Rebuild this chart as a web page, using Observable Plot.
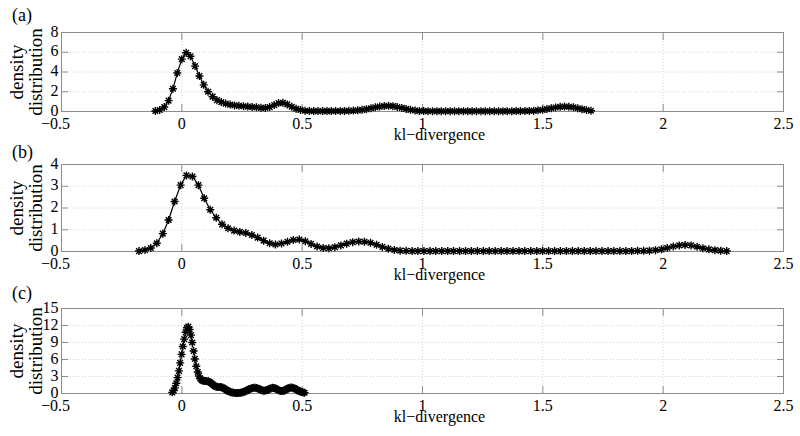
<!DOCTYPE html>
<html>
<head>
<meta charset="utf-8">
<script src="https://cdn.jsdelivr.net/npm/d3@7"></script>
<script src="https://cdn.jsdelivr.net/npm/@observablehq/plot@0.6"></script>
<style>
  html, body { margin: 0; padding: 0; background: #fff; }
  #wrap { position: relative; width: 800px; height: 436px; overflow: hidden; background: #fff; }
  .panel { position: absolute; left: 0; width: 800px; }
  .panel svg { overflow: visible; background: transparent !important;
               font-family: 'Liberation Serif', 'Times New Roman', serif !important;
               font-size: 16px !important; }
  .panel svg text { font-family: 'Liberation Serif', 'Times New Roman', serif !important; }
  .lbl { position: absolute; font-family: 'Liberation Serif', 'Times New Roman', serif;
         color: #000; white-space: nowrap; line-height: 1; }
  .ytitle { position: absolute; font-family: 'Liberation Serif', 'Times New Roman', serif;
            color: #000; font-size: 19px; line-height: 19px; text-align: center; width: 140px;
            transform: translate(-50%, -50%) rotate(-90deg); white-space: pre; }
</style>
</head>
<body>
<div id="wrap"></div>
<script>
// ---- data ----
const xTicks = [-0.5, 0, 0.5, 1, 1.5, 2, 2.5];
const yTicksA = [0, 2, 4, 6, 8];
const yTicksB = [0, 1, 2, 3, 4];
const yTicksC = [0, 3, 6, 9, 12, 15];
const panelLabels = ["(a)", "(b)", "(c)"];
const xTitle = "kl\u2212divergence";
const yTitle = "density\ndistribution";

const xA = [-0.110,-0.092,-0.073,-0.055,-0.037,-0.019,0.000,0.018,0.036,0.055,
0.073,0.091,0.109,0.128,0.146,0.164,0.182,0.201,0.219,0.237,
0.256,0.274,0.292,0.310,0.329,0.347,0.365,0.384,0.402,0.420,
0.438,0.457,0.475,0.493,0.512,0.530,0.548,0.566,0.585,0.603,
0.621,0.639,0.658,0.676,0.694,0.713,0.731,0.749,0.767,0.786,
0.804,0.822,0.841,0.859,0.877,0.895,0.914,0.932,0.950,0.969,
0.987,1.005,1.023,1.042,1.060,1.078,1.096,1.115,1.133,1.151,
1.170,1.188,1.206,1.224,1.243,1.261,1.279,1.298,1.316,1.334,
1.352,1.371,1.389,1.407,1.426,1.444,1.462,1.480,1.499,1.517,
1.535,1.553,1.572,1.590,1.608,1.627,1.645,1.663,1.681,1.700];
const yA = [0.05,0.15,0.45,1.10,2.30,3.90,5.30,5.95,5.60,4.60,
3.60,2.70,2.00,1.50,1.15,0.95,0.80,0.70,0.62,0.57,
0.53,0.50,0.46,0.42,0.37,0.36,0.45,0.65,0.85,0.88,
0.72,0.48,0.28,0.15,0.08,0.05,0.04,0.04,0.04,0.04,
0.04,0.05,0.05,0.06,0.07,0.09,0.12,0.17,0.24,0.33,
0.42,0.50,0.55,0.57,0.54,0.46,0.36,0.26,0.17,0.10,
0.06,0.04,0.03,0.03,0.03,0.03,0.03,0.03,0.03,0.03,
0.03,0.03,0.03,0.03,0.03,0.03,0.03,0.03,0.03,0.03,
0.03,0.03,0.04,0.04,0.05,0.06,0.08,0.12,0.17,0.25,
0.33,0.41,0.47,0.50,0.48,0.42,0.33,0.24,0.15,0.08];

const xB = [-0.178,-0.153,-0.129,-0.104,-0.079,-0.055,-0.030,-0.005,0.019,0.044,
0.069,0.093,0.118,0.143,0.167,0.192,0.217,0.241,0.266,0.291,
0.315,0.340,0.365,0.389,0.414,0.439,0.463,0.488,0.513,0.537,
0.562,0.587,0.611,0.636,0.661,0.685,0.710,0.735,0.759,0.784,
0.809,0.833,0.858,0.883,0.907,0.932,0.957,0.981,1.006,1.031,
1.055,1.080,1.105,1.129,1.154,1.179,1.203,1.228,1.253,1.277,
1.302,1.327,1.351,1.376,1.401,1.425,1.450,1.475,1.499,1.524,
1.549,1.573,1.598,1.623,1.647,1.672,1.697,1.721,1.746,1.771,
1.795,1.820,1.845,1.869,1.894,1.919,1.943,1.968,1.993,2.017,
2.042,2.067,2.091,2.116,2.141,2.165,2.190,2.215,2.239,2.264];
const yB = [0.02,0.07,0.16,0.38,0.82,1.45,2.30,3.05,3.50,3.45,
3.05,2.45,1.92,1.55,1.25,1.07,0.96,0.90,0.85,0.76,
0.64,0.50,0.38,0.32,0.37,0.45,0.53,0.55,0.47,0.35,
0.23,0.16,0.15,0.20,0.28,0.36,0.43,0.46,0.45,0.40,
0.31,0.21,0.13,0.07,0.04,0.03,0.02,0.02,0.02,0.02,
0.02,0.02,0.02,0.02,0.02,0.02,0.02,0.02,0.02,0.02,
0.02,0.02,0.02,0.02,0.02,0.02,0.02,0.02,0.02,0.02,
0.02,0.02,0.02,0.02,0.02,0.02,0.02,0.02,0.02,0.02,
0.02,0.02,0.02,0.02,0.03,0.03,0.04,0.06,0.10,0.16,
0.23,0.28,0.30,0.28,0.22,0.15,0.10,0.06,0.04,0.02];

const xC = [-0.040,-0.034,-0.029,-0.023,-0.018,-0.012,-0.007,-0.001,0.004,0.010,
0.016,0.021,0.027,0.032,0.038,0.043,0.049,0.054,0.060,0.066,
0.071,0.077,0.082,0.088,0.093,0.099,0.104,0.110,0.116,0.121,
0.127,0.132,0.138,0.143,0.149,0.154,0.160,0.166,0.171,0.177,
0.182,0.188,0.193,0.199,0.204,0.210,0.216,0.221,0.227,0.232,
0.238,0.243,0.249,0.254,0.260,0.266,0.271,0.277,0.282,0.288,
0.293,0.299,0.304,0.310,0.316,0.321,0.327,0.332,0.338,0.343,
0.349,0.354,0.360,0.366,0.371,0.377,0.382,0.388,0.393,0.399,
0.404,0.410,0.416,0.421,0.427,0.432,0.438,0.443,0.449,0.454,
0.460,0.466,0.471,0.477,0.482,0.488,0.493,0.499,0.504,0.510];
const yC = [0.2,0.5,1.0,1.8,2.8,4.0,5.4,6.9,8.3,9.6,
10.8,11.6,11.8,11.3,10.3,9.0,7.5,6.1,4.8,3.8,
3.1,2.6,2.35,2.25,2.2,2.2,2.2,2.15,2.0,1.85,
1.65,1.45,1.3,1.2,1.15,1.15,1.15,1.1,1.0,0.85,
0.7,0.55,0.42,0.3,0.22,0.16,0.12,0.1,0.1,0.1,
0.11,0.13,0.17,0.23,0.32,0.43,0.56,0.69,0.8,0.9,
0.97,1.0,1.0,0.97,0.9,0.8,0.68,0.57,0.5,0.48,
0.52,0.6,0.72,0.84,0.94,1.0,0.99,0.92,0.8,0.66,
0.54,0.46,0.43,0.46,0.55,0.68,0.82,0.94,1.02,1.05,
1.02,0.94,0.82,0.68,0.55,0.43,0.33,0.25,0.18,0.13];

// ---- drawing ----
const FRAME = "#8c8c8c";
const GRID = "#d2d2d2";

// 8-spoke asterisk like MATLAB '*'
const star = {
  draw(ctx, size) {
    const r = Math.sqrt(size / Math.PI);
    const d = r * Math.SQRT1_2;
    ctx.moveTo(-r, 0); ctx.lineTo(r, 0);
    ctx.moveTo(0, -r); ctx.lineTo(0, r);
    ctx.moveTo(-d, -d); ctx.lineTo(d, d);
    ctx.moveTo(-d, d); ctx.lineTo(d, -d);
  }
};

const fmt = d => (d < 0 ? "\u2212" : "") + String(Math.abs(d));
const wrap = document.getElementById("wrap");

function addDiv(cls, text, css) {
  const el = document.createElement("div");
  el.className = cls;
  el.textContent = text;
  Object.assign(el.style, css);
  wrap.appendChild(el);
}

function panel({xs, ys, yTicks, label, top, height, marginTop, marginBottom, labelTop}) {
  const data = xs.map((x, i) => ({x, y: ys[i]}));
  const yDomain = [yTicks[0], yTicks[yTicks.length - 1]];
  const noLab = () => "";
  const plot = Plot.plot({
    width: 800,
    height,
    marginTop,
    marginBottom,
    marginLeft: 61,
    marginRight: 17,
    x: {domain: [xTicks[0], xTicks[xTicks.length - 1]], label: null},
    y: {domain: yDomain, label: null},
    marks: [
      Plot.gridX(xTicks, {stroke: GRID, strokeOpacity: 1, strokeDasharray: "1,2"}),
      Plot.gridY(yTicks, {stroke: GRID, strokeOpacity: 1, strokeDasharray: "1,2"}),
      Plot.axisX({anchor: "bottom", ticks: xTicks, tickSize: -7, tickFormat: noLab, label: null, stroke: FRAME}),
      Plot.axisX({anchor: "top", ticks: xTicks, tickSize: -7, tickFormat: noLab, label: null, stroke: FRAME}),
      Plot.axisY({anchor: "left", ticks: yTicks, tickSize: -7, tickFormat: noLab, label: null, stroke: FRAME}),
      Plot.axisY({anchor: "right", ticks: yTicks, tickSize: -7, tickFormat: noLab, label: null, stroke: FRAME}),
      Plot.frame({stroke: FRAME}),
      // x tick labels (MATLAB centres the digits, the minus hangs left)
      Plot.text(xTicks.filter(d => d >= 0), {x: d => d, frameAnchor: "bottom", dy: 17, lineAnchor: "bottom", text: fmt, fill: "black"}),
      Plot.text(xTicks.filter(d => d < 0), {x: d => d, frameAnchor: "bottom", dy: 17, dx: -6, lineAnchor: "bottom", text: fmt, fill: "black"}),
      // y tick labels
      Plot.text(yTicks, {y: d => d, frameAnchor: "left", textAnchor: "end", dx: -3, dy: -1, text: fmt, fill: "black"}),
      // x title
      Plot.text([xTitle], {frameAnchor: "bottom", dx: 17, dy: 28, lineAnchor: "bottom", text: d => d, fill: "black"}),
      // data
      Plot.line(data, {x: "x", y: "y", stroke: "black", strokeWidth: 1.2}),
      Plot.dot(data, {x: "x", y: "y", symbol: star, r: 4, stroke: "black", strokeWidth: 1.4, fill: "none"})
    ]
  });
  const div = document.createElement("div");
  div.className = "panel";
  div.style.top = top + "px";
  div.style.height = height + "px";
  div.appendChild(plot);
  wrap.appendChild(div);

  // panel label and rotated two-line y title
  addDiv("lbl", label, {left: "12px", top: labelTop + "px", fontSize: "18px"});
  const cy = top + marginTop + (height - marginTop - marginBottom) / 2;
  addDiv("ytitle", yTitle, {left: "25.5px", top: cy + "px"});
}

panel({xs: xA, ys: yA, yTicks: yTicksA, label: panelLabels[0], top: 0, height: 143, marginTop: 32, marginBottom: 32, labelTop: 6});
panel({xs: xB, ys: yB, yTicks: yTicksB, label: panelLabels[1], top: 143, height: 141, marginTop: 21, marginBottom: 33, labelTop: 143});
panel({xs: xC, ys: yC, yTicks: yTicksC, label: panelLabels[2], top: 284, height: 152, marginTop: 24, marginBottom: 43, labelTop: 284});
</script>
</body>
</html>
